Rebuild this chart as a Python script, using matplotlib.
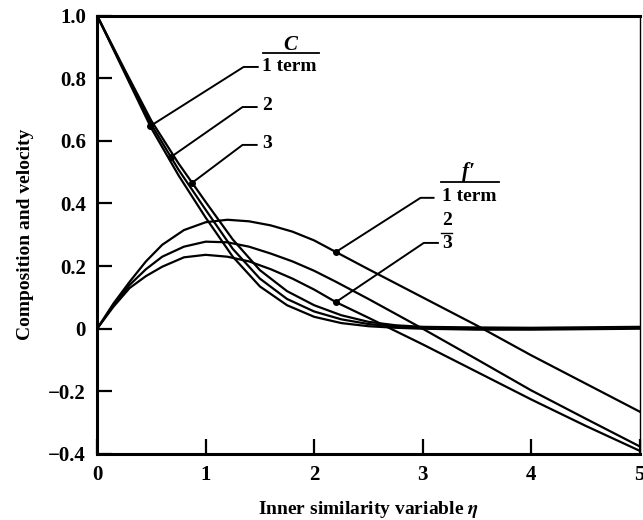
import matplotlib
matplotlib.use("Agg")
import matplotlib.pyplot as plt
import numpy as np

plt.rcParams['font.family'] = ['Liberation Serif', 'DejaVu Serif']
plt.rcParams['font.weight'] = 'bold'
plt.rcParams['axes.labelweight'] = 'bold'
plt.rcParams['mathtext.fontset'] = 'stix'

# composition C (1, 2, 3 terms)
eta_c = [0, 0.25, 0.5, 0.75, 1.0, 1.25, 1.5, 1.75, 2.0, 2.25, 2.5, 2.75, 3.0, 3.5, 4.0, 5.0]
c1 = [1, 0.82, 0.64, 0.49, 0.355, 0.23, 0.135, 0.075, 0.038, 0.018, 0.008, 0.003, 0.0, -0.003, -0.003, 0.0]
c2 = [1, 0.825, 0.652, 0.508, 0.38, 0.255, 0.16, 0.095, 0.055, 0.03, 0.015, 0.006, 0.003, 0.001, 0.0, 0.003]
c3 = [1, 0.83, 0.664, 0.528, 0.405, 0.285, 0.187, 0.12, 0.075, 0.043, 0.022, 0.011, 0.006, 0.004, 0.003, 0.006]

# velocity f' (1, 2, 3 terms)
eta_f = [0, 0.15, 0.3, 0.45, 0.6, 0.8, 1.0, 1.2, 1.4, 1.6, 1.8, 2.0, 2.2, 2.5, 3.0, 3.5, 4.0, 4.5, 5.0]
f1 = [0, 0.08, 0.15, 0.215, 0.268, 0.315, 0.34, 0.348, 0.343, 0.33, 0.31, 0.282, 0.245, 0.19, 0.1, 0.01, -0.085, -0.175, -0.265]
f2 = [0, 0.075, 0.14, 0.19, 0.23, 0.262, 0.278, 0.276, 0.262, 0.24, 0.215, 0.185, 0.15, 0.095, 0.0, -0.098, -0.197, -0.287, -0.376]
f3 = [0, 0.07, 0.13, 0.168, 0.198, 0.228, 0.236, 0.23, 0.215, 0.19, 0.16, 0.125, 0.085, 0.035, -0.05, -0.138, -0.226, -0.31, -0.39]

xticks = [0, 1, 2, 3, 4, 5]
yticks = [-0.4, -0.2, 0, 0.2, 0.4, 0.6, 0.8, 1.0]
ylabels = ['\u22120.4', '\u22120.2', '0', '0.2', '0.4', '0.6', '0.8', '1.0']

fig = plt.figure(figsize=(6.43, 5.20), dpi=100)
ax = fig.add_axes([0.151, 0.127, 0.844, 0.843])

lw = 1.6
for c in (c1, c2, c3):
    ax.plot(eta_c, c, color='black', lw=lw)
for f in (f1, f2, f3):
    ax.plot(eta_f, f, color='black', lw=lw)

ax.set_xlim(0, 5)
ax.set_ylim(-0.4, 1.0)
ax.set_xticks(xticks)
ax.set_yticks(yticks)
ax.set_yticklabels(ylabels)
ax.tick_params(direction='in', length=11, width=1.6, labelsize=15, pad=8)
for side in ('left', 'bottom', 'top'):
    ax.spines[side].set_linewidth(2.2)
ax.spines['right'].set_linewidth(1)

ax.set_xlabel('Inner similarity variable $\\mathit{\\eta}$', fontsize=14, labelpad=10)
ax.set_ylabel('Composition and velocity', fontsize=14, labelpad=10)

# leader lines: curve point, bend, end
leaders = [
    (0.49, eta_c, c1, (1.35, 0.836), (1.48, 0.836)),
    (0.68, eta_c, c2, (1.34, 0.708), (1.47, 0.708)),
    (0.876, eta_c, c3, (1.34, 0.587), (1.47, 0.587)),
    (2.20, eta_f, f1, (2.98, 0.418), (3.10, 0.418)),
    (2.20, eta_f, f3, (3.01, 0.274), (3.14, 0.274)),
]
for x0, ex, ey, bend, end in leaders:
    y0 = np.interp(x0, ex, ey)
    ax.plot([x0, bend[0], end[0]], [y0, bend[1], end[1]], color='black', lw=1.4)
    ax.plot(x0, y0, 'o', color='black', ms=4)

ax.text(1.78, 0.906, 'C', fontsize=15, style='italic', ha='center', va='center')
ax.plot([1.53, 2.04], [0.880, 0.880], color='black', lw=1.3)
ax.text(1.77, 0.836, '1 term', fontsize=14, ha='center', va='center')
ax.text(1.52, 0.712, '2', fontsize=14, ha='left', va='center')
ax.text(1.52, 0.590, '3', fontsize=14, ha='left', va='center')

ax.text(3.42, 0.50, "f\u2032", fontsize=15, style='italic', ha='center', va='center')
ax.plot([3.17, 3.70], [0.469, 0.469], color='black', lw=1.3)
ax.text(3.43, 0.421, '1 term', fontsize=14, ha='center', va='center')
ax.text(3.22, 0.345, '2', fontsize=14, ha='center', va='center')
ax.plot([3.17, 3.27], [0.306, 0.306], color='black', lw=1.0)
ax.text(3.22, 0.272, '3', fontsize=14, ha='center', va='center')

fig.savefig('out.png', dpi=100)
